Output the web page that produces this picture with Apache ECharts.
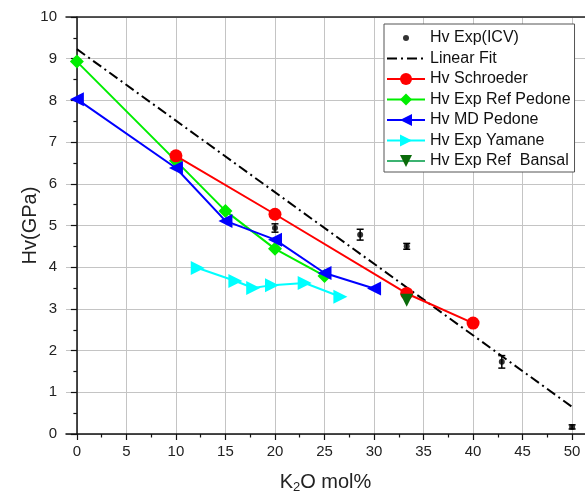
<!DOCTYPE html>
<html>
<head>
  <meta charset="utf-8">
  <title>Hv vs K2O</title>
  <style>
    html, body { margin: 0; padding: 0; background: #fff; }
    #myChart { width: 585px; height: 499px; }
  </style>
</head>
<body>
  <div id="myChart"></div>
  <script src="https://cdn.jsdelivr.net/npm/echarts@6/dist/echarts.min.js"></script>
  <script>
    // values
    const icvX = [20, 28.6, 33.3, 42.9, 50];
    const icvY = [4.94, 4.78, 4.50, 1.73, 0.17];
    const icvErr = [0.10, 0.13, 0.07, 0.15, 0.05];
    const fitX = [0, 50];
    const fitY = [9.23, 0.65];
    const schroederX = [10, 20, 33.3, 40];
    const schroederY = [6.67, 5.27, 3.37, 2.66];
    const pedoneExpX = [0, 10, 15, 20, 25];
    const pedoneExpY = [8.93, 6.55, 5.35, 4.44, 3.79];
    const pedoneMdX = [0, 10, 15, 20, 25, 30];
    const pedoneMdY = [8.03, 6.38, 5.11, 4.66, 3.86, 3.49];
    const yamaneX = [12.2, 16, 17.8, 19.7, 23, 26.6];
    const yamaneY = [3.98, 3.67, 3.50, 3.57, 3.62, 3.29];
    const bansalX = [33.3];
    const bansalY = [3.21];
    const xTicks = [0, 5, 10, 15, 20, 25, 30, 35, 40, 45, 50];
    const xMinorTicks = [2.5, 7.5, 12.5, 17.5, 22.5, 27.5, 32.5, 37.5, 42.5, 47.5];

    const zip = (xs, ys) => xs.map((x, i) => [x, ys[i]]);
    const font = 'Liberation Sans, Arial, sans-serif';

    const myChart = echarts.init(document.getElementById('myChart'));

    function renderErrorBar(params, api) {
      const x = api.value(0);
      const y = api.value(1);
      const e = api.value(2);
      const top = api.coord([x, y + e]);
      const bot = api.coord([x, y - e]);
      const cap = 3.5;
      const style = { stroke: '#000', lineWidth: 1.5 };
      return {
        type: 'group',
        children: [
          { type: 'line', shape: { x1: top[0], y1: top[1], x2: bot[0], y2: bot[1] }, style },
          { type: 'line', shape: { x1: top[0] - cap, y1: top[1], x2: top[0] + cap, y2: top[1] }, style },
          { type: 'line', shape: { x1: bot[0] - cap, y1: bot[1], x2: bot[0] + cap, y2: bot[1] }, style }
        ]
      };
    }

    const option = {
      backgroundColor: '#fff',
      animation: false,
      grid: { left: 66, right: 0, top: 17, bottom: 65, containLabel: false, outerBoundsMode: 'none' },
      legend: {
        left: 384,
        top: 24,
        orient: 'vertical',
        backgroundColor: '#fff',
        borderColor: '#555',
        borderWidth: 1,
        padding: [6, 4, 3, 2],
        itemGap: 4.5,
        itemWidth: 38,
        itemHeight: 15,
        textStyle: { fontSize: 16, color: '#111', fontFamily: font },
        data: [
          { name: 'Hv Exp(ICV)', icon: 'path://M0,0 M38,0 M0,15 M38,15 M16,7.5 a3,3 0 1,0 6,0 a3,3 0 1,0 -6,0z' },
          { name: 'Linear Fit', itemStyle: { color: 'rgba(0,0,0,0)', borderWidth: 0 } },
          'Hv Schroeder',
          'Hv Exp Ref Pedone',
          'Hv MD Pedone',
          'Hv Exp Yamane',
          'Hv Exp Ref  Bansal'
        ]
      },
      xAxis: [{
        type: 'value',
        min: -1.1,
        max: 51.3,
        interval: 5,
        name: 'K{sub|2}O mol%',
        nameLocation: 'middle',
        nameGap: 37,
        nameMoveOverlap: false,
        nameTextStyle: {
          fontSize: 20, color: '#222', fontFamily: font,
          rich: { sub: { fontSize: 13, verticalAlign: 'bottom', padding: [10, 0, 0, 0], fontFamily: font, color: '#222' } }
        },
        axisLine: { onZero: false, lineStyle: { color: '#111', width: 1.5 } },
        axisTick: { show: true, customValues: xTicks, length: 6, lineStyle: { color: '#111', width: 1.2 } },
        axisLabel: { customValues: xTicks, margin: 10, fontSize: 15, color: '#222', fontFamily: font },
        splitLine: { show: true, lineStyle: { color: '#c4c4c4', width: 1 } }
      }, {
        type: 'value',
        position: 'top',
        min: -1.1,
        max: 51.3,
        axisLine: { show: true, onZero: false, lineStyle: { color: '#222', width: 1.5 } },
        axisTick: { show: false },
        axisLabel: { show: false },
        splitLine: { show: false }
      }, {
        type: 'value',
        position: 'bottom',
        min: -1.1,
        max: 51.3,
        axisLine: { show: false, onZero: false },
        axisTick: { show: true, customValues: xMinorTicks, length: 3.5, lineStyle: { color: '#111', width: 1.2 } },
        axisLabel: { show: false },
        splitLine: { show: false }
      }],
      yAxis: {
        type: 'value',
        min: 0,
        max: 10,
        interval: 1,
        name: 'Hv(GPa)',
        nameLocation: 'middle',
        nameGap: 26,
        nameMoveOverlap: false,
        nameTextStyle: { fontSize: 20, color: '#222', fontFamily: font },
        axisLine: { show: true, lineStyle: { color: '#111', width: 1.5 } },
        axisTick: { show: true, length: 6, lineStyle: { color: '#111', width: 1.2 } },
        minorTick: { show: true, splitNumber: 2, length: 3.5, lineStyle: { color: '#111', width: 1.2 } },
        axisLabel: { margin: 9, fontSize: 15, color: '#222', fontFamily: font },
        splitLine: { show: true, lineStyle: { color: '#c4c4c4', width: 1 } }
      },
      series: [{
        name: 'Linear Fit',
        type: 'line',
        symbol: 'none',
        data: zip(fitX, fitY),
        lineStyle: { color: '#000', width: 2, type: [10, 4, 2, 4] },
        itemStyle: { color: '#000' },
        z: 2
      }, {
        name: 'Hv Exp Ref Pedone',
        type: 'line',
        symbol: 'diamond',
        symbolSize: 14,
        data: zip(pedoneExpX, pedoneExpY),
        lineStyle: { color: '#00ee00', width: 2 },
        itemStyle: { color: '#00ee00' },
        z: 3
      }, {
        name: 'Hv Schroeder',
        type: 'line',
        symbol: 'circle',
        symbolSize: 13,
        data: zip(schroederX, schroederY),
        lineStyle: { color: '#ff0000', width: 2 },
        itemStyle: { color: '#ff0000' },
        z: 4
      }, {
        name: 'Hv MD Pedone',
        type: 'line',
        symbol: 'triangle',
        symbolRotate: 90,
        symbolSize: 14,
        data: zip(pedoneMdX, pedoneMdY),
        lineStyle: { color: '#0000ff', width: 2 },
        itemStyle: { color: '#0000ff' },
        z: 5
      }, {
        name: 'Hv Exp Yamane',
        type: 'line',
        symbol: 'triangle',
        symbolRotate: -90,
        symbolSize: 14,
        data: zip(yamaneX, yamaneY),
        lineStyle: { color: '#00ffff', width: 2 },
        itemStyle: { color: '#00ffff' },
        z: 5
      }, {
        name: 'Hv Exp Ref  Bansal',
        type: 'line',
        symbol: 'triangle',
        symbolRotate: 180,
        symbolSize: 13,
        data: zip(bansalX, bansalY),
        lineStyle: { color: '#3cb371', width: 1 },
        itemStyle: { color: '#0a6b0a' },
        z: 6
      }, {
        name: 'Hv Exp(ICV)',
        type: 'scatter',
        symbol: 'circle',
        symbolSize: 6,
        data: zip(icvX, icvY),
        itemStyle: { color: '#000' },
        z: 7
      }, {
        name: 'ICV error',
        type: 'custom',
        renderItem: renderErrorBar,
        data: icvX.map((x, i) => [x, icvY[i], icvErr[i]]),
        z: 7
      }]
    };

    myChart.setOption(option);
  </script>
</body>
</html>
